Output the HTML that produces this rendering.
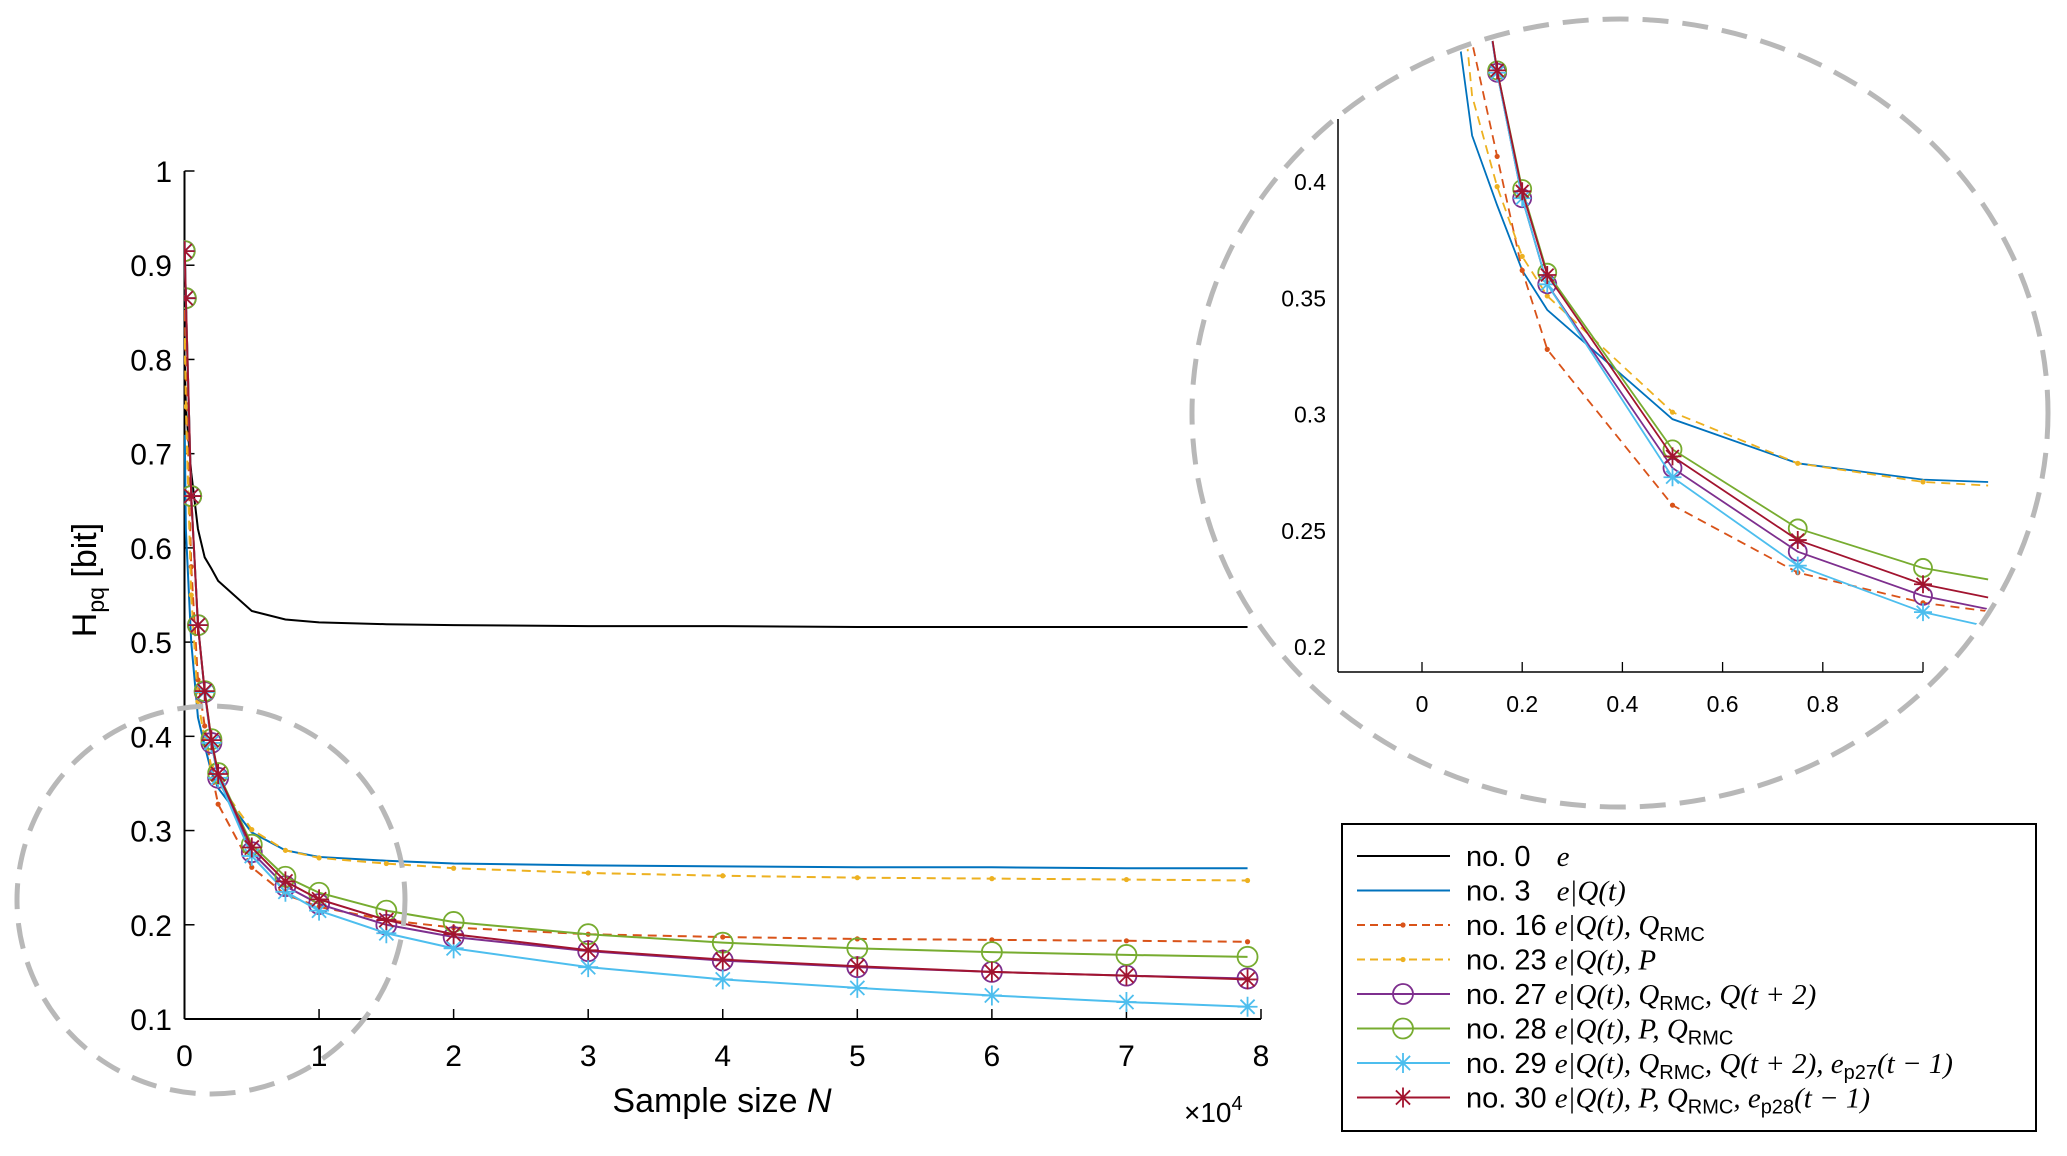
<!DOCTYPE html>
<html><head><meta charset="utf-8"><style>
body{margin:0;background:#fff;}
svg text{font-family:"Liberation Sans",sans-serif;}
.m{font-family:"Liberation Serif",serif;font-style:italic;}
</style></head><body>
<svg id="chart" width="2067" height="1151" viewBox="0 0 2067 1151" xmlns="http://www.w3.org/2000/svg">
<defs>
<clipPath id="mainClip"><rect x="184" y="150" width="1100" height="872"/></clipPath>
<clipPath id="insetClip"><ellipse cx="1620" cy="413" rx="424" ry="390"/></clipPath>
</defs>
<g id="main"></g>
<g id="inset"></g>
<ellipse cx="211" cy="900" rx="194" ry="194" fill="none" stroke="#b8b8b8" stroke-width="5" stroke-dasharray="26,14"/>
<ellipse cx="1620" cy="413" rx="428" ry="394" fill="none" stroke="#b8b8b8" stroke-width="5" stroke-dasharray="26,14"/>
<g>
<rect x="1342" y="824" width="694" height="307" fill="#fff" stroke="#000" stroke-width="2"/>
<g id="legend"></g>
</g>
</svg>
<script>
const xs=[0.002,0.01,0.05,0.1,0.15,0.2,0.25,0.5,0.75,1,1.5,2,3,4,5,6,7,7.9];
const s0=[0.80,0.75,0.68,0.62,0.59,0.578,0.565,0.533,0.524,0.521,0.519,0.518,0.517,0.517,0.516,0.516,0.516,0.516];
const s3=[0.72,0.62,0.50,0.42,0.39,0.362,0.345,0.298,0.279,0.272,0.268,0.265,0.263,0.262,0.261,0.261,0.260,0.260];
const s16=[0.85,0.80,0.58,0.46,0.411,0.362,0.328,0.261,0.232,0.219,0.205,0.197,0.190,0.187,0.185,0.184,0.183,0.182];
const s23=[0.82,0.75,0.55,0.437,0.398,0.368,0.351,0.301,0.279,0.271,0.265,0.260,0.255,0.252,0.250,0.249,0.248,0.247];
const s27=[0.915,0.865,0.655,0.518,0.447,0.393,0.356,0.277,0.241,0.222,0.200,0.187,0.172,0.162,0.155,0.150,0.146,0.143];
const s28=[0.915,0.865,0.655,0.518,0.448,0.397,0.361,0.285,0.251,0.234,0.215,0.203,0.190,0.181,0.175,0.171,0.168,0.166];
const s29=[0.915,0.865,0.655,0.518,0.447,0.393,0.356,0.273,0.235,0.215,0.191,0.175,0.155,0.142,0.133,0.125,0.118,0.113];
const s30=[0.915,0.865,0.655,0.518,0.448,0.396,0.360,0.282,0.246,0.227,0.205,0.190,0.173,0.163,0.156,0.150,0.146,0.142];
const xTicks=[0,1,2,3,4,5,6,7,8];
const yTicks=[0.1,0.2,0.3,0.4,0.5,0.6,0.7,0.8,0.9,1];
const ixTicks=[0,0.2,0.4,0.6,0.8,1];
const ixLabels=["0","0.2","0.4","0.6","0.8",""];
const iyTicks=[0.2,0.25,0.3,0.35,0.4];
const iyLabels=["0.2","0.25","0.3","0.35","0.4"];
const NS="http://www.w3.org/2000/svg";
function mk(t,a,p){const e=document.createElementNS(NS,t);for(const k in a)e.setAttribute(k,a[k]);p.appendChild(e);return e;}
const X=v=>184.5+(v/8)*(1261-184.5);
const Y=v=>1019-(v-0.1)/0.9*(1019-171);
const IX=v=>1422+v*(1923-1422);
const IY=v=>647-(v-0.2)/0.2*(647-182);
const series=[
 {n:"no-0",d:s0,c:"#000000",dash:null,mk:null},
 {n:"no-3",d:s3,c:"#0072BD",dash:null,mk:null},
 {n:"no-16",d:s16,c:"#D95319",dash:"9,6",mk:"dot"},
 {n:"no-23",d:s23,c:"#EDB120",dash:"9,6",mk:"dot"},
 {n:"no-27",d:s27,c:"#7E2F8E",dash:null,mk:"o"},
 {n:"no-28",d:s28,c:"#77AC30",dash:null,mk:"o"},
 {n:"no-29",d:s29,c:"#4DBEEE",dash:null,mk:"*"},
 {n:"no-30",d:s30,c:"#A2142F",dash:null,mk:"*"}
];
function marker(g,type,x,y,c,r){
 if(type==="dot"){const e=mk("circle",{cx:x,cy:y,r:2.6,fill:c},g);}
 else if(type==="o"){const e=mk("circle",{cx:x,cy:y,r:r,fill:"none",stroke:c,"stroke-width":1.8},g);}
 else if(type==="*"){const p=[];for(let k=0;k<4;k++){const a=k*Math.PI/4;const dx=Math.cos(a)*r,dy=Math.sin(a)*r;p.push(`M${x-dx},${y-dy}L${x+dx},${y+dy}`);}
  const e=mk("path",{d:p.join(""),stroke:c,"stroke-width":1.8,fill:"none"},g);}
}
const main=document.getElementById("main");
mk("line",{x1:184.5,y1:1019,x2:1261,y2:1019,stroke:"#000","stroke-width":2},main);
mk("line",{x1:184.5,y1:171,x2:184.5,y2:1019,stroke:"#000","stroke-width":2},main);
xTicks.forEach(t=>{mk("line",{x1:X(t),y1:1019,x2:X(t),y2:1009,stroke:"#000","stroke-width":1.5},main);
 const tx=mk("text",{x:X(t),y:1066,"font-size":30,"text-anchor":"middle"},main);tx.textContent=t;
 });
yTicks.forEach(t=>{mk("line",{x1:184.5,y1:Y(t),x2:194.5,y2:Y(t),stroke:"#000","stroke-width":1.5},main);
 const tx=mk("text",{x:172,y:Y(t)+11,"font-size":30,"text-anchor":"end"},main);tx.textContent=+t.toFixed(1);
 });
let t1=mk("text",{x:722,y:1112,"font-size":34,"text-anchor":"middle"},main);
t1.innerHTML='Sample size <tspan font-style="italic">N</tspan>';

let t2=mk("text",{x:1184,y:1122,"font-size":28},main);
t2.innerHTML='×10<tspan font-size="20" dy="-12">4</tspan>';

let t3=mk("text",{x:0,y:0,"font-size":34,transform:"translate(96,580) rotate(-90)","text-anchor":"middle","font-family":"Liberation Serif,serif"},main);
t3.innerHTML='H<tspan font-size="23" dy="8">pq</tspan><tspan dy="-8"> [bit]</tspan>';

const mg=mk("g",{"clip-path":"url(#mainClip)"},main);
series.forEach(s=>{const g=mk("g",{},mg);
 const pts=xs.map((x,i)=>X(x)+","+Y(s.d[i])).join(" ");
 const a={points:pts,fill:"none",stroke:s.c,"stroke-width":2};if(s.dash)a["stroke-dasharray"]=s.dash;mk("polyline",a,g);
 if(s.mk)xs.forEach((x,i)=>marker(g,s.mk,X(x),Y(s.d[i]),s.c,s.mk==="dot"?3:10));});
const ins=document.getElementById("inset");
mk("line",{x1:1338,y1:672,x2:1923,y2:672,stroke:"#000","stroke-width":1.5},ins);
mk("line",{x1:1338,y1:119,x2:1338,y2:672,stroke:"#000","stroke-width":1.5},ins);
ixTicks.forEach((t,i)=>{mk("line",{x1:IX(t),y1:672,x2:IX(t),y2:662,stroke:"#000","stroke-width":1.3},ins);
 const tx=mk("text",{x:IX(t),y:712,"font-size":23,"text-anchor":"middle"},ins);tx.textContent=ixLabels[i];
 });
iyTicks.forEach((t,i)=>{const tx=mk("text",{x:1326,y:IY(t)+8,"font-size":23,"text-anchor":"end"},ins);tx.textContent=iyLabels[i];
 });
const ig=mk("g",{"clip-path":"url(#insetClip)"},ins);
series.slice(1).forEach(s=>{const g=mk("g",{},ig);
 const idx=xs.map((x,i)=>i).filter(i=>xs[i]>=0.05&&xs[i]<=1.5);
 const pts=idx.map(i=>{let x=xs[i],y=s.d[i];if(x>1.0){const j=i-1;const f=(1.13-xs[j])/(x-xs[j]);x=1.13;y=s.d[j]+f*(s.d[i]-s.d[j]);}return IX(x)+","+IY(y);}).join(" ");
 const a={points:pts,fill:"none",stroke:s.c,"stroke-width":1.8};if(s.dash)a["stroke-dasharray"]=s.dash;mk("polyline",a,g);
 if(s.mk)xs.forEach((x,i)=>{if(x>=0.15&&x<=1)marker(g,s.mk,IX(x),IY(s.d[i]),s.c,s.mk==="dot"?3:9);});});
const leg=document.getElementById("legend");
const labels=['<tspan>no. 0 </tspan><tspan class="m" dx="18">e</tspan>',
'<tspan>no. 3 </tspan><tspan class="m" dx="18">e|Q(t)</tspan>',
'<tspan>no. 16 </tspan><tspan class="m">e|Q(t), Q</tspan><tspan font-size="20" dy="6">RMC</tspan>',
'<tspan>no. 23 </tspan><tspan class="m">e|Q(t), P</tspan>',
'<tspan>no. 27 </tspan><tspan class="m">e|Q(t), Q</tspan><tspan font-size="20" dy="6">RMC</tspan><tspan class="m" dy="-6">, Q(t + 2)</tspan>',
'<tspan>no. 28 </tspan><tspan class="m">e|Q(t), P, Q</tspan><tspan font-size="20" dy="6">RMC</tspan>',
'<tspan>no. 29 </tspan><tspan class="m">e|Q(t), Q</tspan><tspan font-size="20" dy="6">RMC</tspan><tspan class="m" dy="-6">, Q(t + 2), e</tspan><tspan font-size="20" dy="6">p27</tspan><tspan class="m" dy="-6">(t − 1)</tspan>',
'<tspan>no. 30 </tspan><tspan class="m">e|Q(t), P, Q</tspan><tspan font-size="20" dy="6">RMC</tspan><tspan class="m" dy="-6">, e</tspan><tspan font-size="20" dy="6">p28</tspan><tspan class="m" dy="-6">(t − 1)</tspan>'];
series.forEach((s,i)=>{const y=856+i*34.5;const g=mk("g",{},leg);
 
 const a={x1:1357,y1:y,x2:1450,y2:y,stroke:s.c,"stroke-width":2};if(s.dash)a["stroke-dasharray"]="8,5";mk("line",a,g);
 if(s.mk)marker(g,s.mk,1403,y,s.c,s.mk==="dot"?3:10);
 const tx=mk("text",{x:1466,y:y+10,"font-size":29,"font-family":"Liberation Serif,serif"},g);tx.innerHTML=labels[i];});
</script>
</body></html>
